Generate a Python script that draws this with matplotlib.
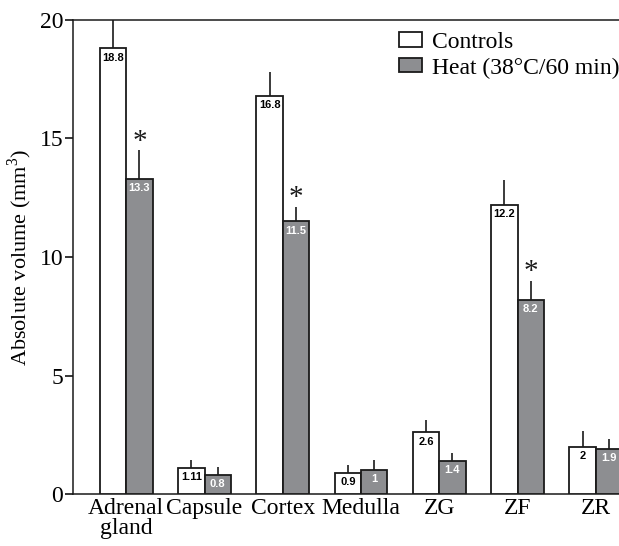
import numpy as np
import matplotlib
matplotlib.use("Agg")
import matplotlib.pyplot as plt

plt.rcParams['font.family'] = ['Liberation Serif', 'DejaVu Serif']
plt.rcParams['mathtext.fontset'] = 'custom'
plt.rcParams['mathtext.rm'] = 'Liberation Serif'

# %% data
categories = ['Adrenal\ngland', 'Capsule', 'Cortex', 'Medulla', 'ZG', 'ZF', 'ZR']
controls = [18.8, 1.11, 16.8, 0.9, 2.6, 12.2, 2]
heat = [13.3, 0.8, 11.5, 1, 1.4, 8.2, 1.9]
controls_err = [1.3, 0.33, 1.0, 0.34, 0.52, 1.05, 0.64]
heat_err = [1.2, 0.34, 0.6, 0.44, 0.35, 0.78, 0.41]
control_labels = ['18.8', '1.11', '16.8', '0.9', '2.6', '12.2', '2']
heat_labels = ['13.3', '0.8', '11.5', '1', '1.4', '8.2', '1.9']
significant = [True, False, True, False, False, True, False]

# %% plot
fig = plt.figure(figsize=(6.19, 5.46), dpi=100)
ax = fig.add_axes([0.118, 0.0952, 0.885, 0.8682])

x = np.arange(len(categories))
w = 0.337
gray = '#8d8e91'

b1 = ax.bar(x - w / 2, controls, w, color='white', edgecolor='#1a1a1a', linewidth=1.3,
            label='Controls', zorder=3)
b2 = ax.bar(x + w / 2, heat, w, color=gray, edgecolor='#1a1a1a', linewidth=1.3,
            label='Heat (38°C/60 min)', zorder=3)

zeros = np.zeros(len(x))
ax.errorbar(x - w / 2, controls, yerr=[zeros, controls_err], fmt='none', ecolor='#1a1a1a',
            elinewidth=1.2, capsize=0, zorder=2)
ax.errorbar(x + w / 2, heat, yerr=[zeros, heat_err], fmt='none', ecolor='#1a1a1a',
            elinewidth=1.2, capsize=0, zorder=2)

for xi, v, lab in zip(x, controls, control_labels):
    ax.annotate(lab, (xi - w / 2, v), xytext=(0, -3), textcoords='offset points',
                ha='center', va='top', fontsize=8, fontweight='bold',
                family='Liberation Sans', color='black', zorder=4)
for xi, v, lab in zip(x, heat, heat_labels):
    ax.annotate(lab, (xi + w / 2, v), xytext=(0, -3), textcoords='offset points',
                ha='center', va='top', fontsize=8, fontweight='bold',
                family='Liberation Sans', color='white', zorder=4)

# asterisks above the heat error bars
for xi, v, e, s in zip(x, heat, heat_err, significant):
    if s:
        ax.annotate('*', (xi + w / 2, v + e), xytext=(0, -3), textcoords='offset points',
                    ha='center', va='bottom', fontsize=21, color='#1a1a1a')

ax.set_xlim(-0.68, 6.32)
ax.set_ylim(0, 20)
ax.set_yticks([0, 5, 10, 15, 20])
ax.set_xticks(x)
ax.set_xticklabels(categories, fontsize=17, linespacing=0.95)
ax.tick_params(axis='x', length=0, pad=3)
ax.tick_params(axis='y', labelsize=17, length=6, width=1.1, pad=1)
ax.set_ylabel('Absolute volume (mm$^3$)', fontsize=16, labelpad=4)

ax.spines['right'].set_visible(False)
for s in ['left', 'top', 'bottom']:
    ax.spines[s].set_linewidth(1.1)
    ax.spines[s].set_color('#1a1a1a')

ax.legend(loc='upper right', bbox_to_anchor=(0.997, 0.975), frameon=False, fontsize=17,
          handlelength=1.0, handleheight=0.55, handletextpad=0.4, labelspacing=0.2,
          borderpad=0, borderaxespad=0)

fig.savefig('out.png', dpi=100)
